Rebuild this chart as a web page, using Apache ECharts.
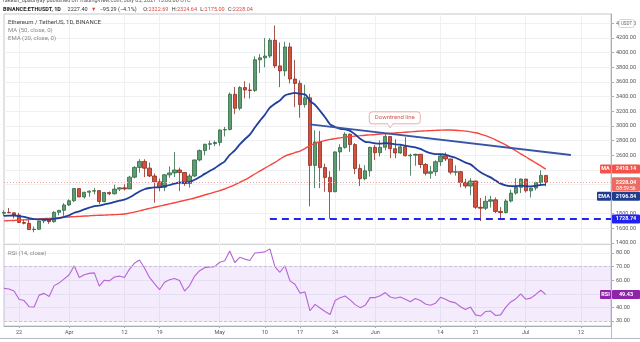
<!DOCTYPE html>
<html>
<head>
<meta charset="utf-8">
<title>ETHUSDT 1D</title>
<script src="https://cdn.jsdelivr.net/npm/echarts@6.0.0/dist/echarts.min.js"></script>
<style>
html,body{margin:0;padding:0;background:#ffffff;}
#chart{width:640px;height:342px;}
</style>
</head>
<body>
<div id="chart"></div>
<script>
// Daily ETH/USDT candles (Binance), 19 Mar – 5 Jul 2021: [open, high, low, close]
const ohlc = [
  [1806,1844,1765,1818],[1818,1878,1810,1812],[1812,1820,1735,1783],[1783,1811,1671,1680],
  [1680,1724,1654,1669],[1669,1734,1578,1583],[1583,1626,1546,1587],[1587,1703,1586,1700],
  [1700,1732,1669,1715],[1715,1719,1662,1691],[1691,1835,1676,1819],[1819,1846,1777,1846],
  [1846,1944,1771,1919],[1919,1995,1906,1977],[1977,2145,1959,2143],[2143,2148,2030,2028],
  [2028,2098,2007,2093],[2093,2119,2031,2108],[2108,2152,2064,2115],[2115,2123,1932,1966],
  [1966,2097,1956,2089],[2089,2103,2052,2072],[2072,2196,2062,2136],[2136,2160,2110,2153],
  [2153,2202,2117,2139],[2139,2318,2136,2299],[2299,2450,2284,2432],[2432,2545,2360,2514],
  [2514,2544,2300,2422],[2422,2498,2300,2315],[2315,2350,1950,2235],[2235,2280,2106,2161],
  [2161,2340,2108,2331],[2331,2447,2290,2357],[2357,2644,2300,2397],[2397,2430,2108,2363],
  [2363,2366,2180,2213],[2213,2345,2155,2315],[2315,2540,2300,2534],[2534,2677,2515,2662],
  [2662,2757,2597,2748],[2748,2798,2672,2757],[2757,2797,2722,2773],[2773,2950,2728,2944],
  [2944,2985,2855,2950],[2950,3456,2937,3431],[3431,3531,3160,3240],[3240,3542,3211,3523],
  [3523,3608,3375,3490],[3490,3580,3373,3484],[3484,3950,3462,3903],[3903,3979,3723,3929],
  [3929,4200,3800,3954],[3954,4197,3927,4169],[4169,4372,3789,3819],[3819,4139,3529,3751],
  [3751,4147,3678,4078],[4078,4135,3579,3640],[3640,3901,3255,3580],[3580,3622,3110,3290],
  [3290,3562,3250,3383],[3383,3437,1900,2460],[2460,2940,2149,2780],[2780,2930,2150,2430],
  [2430,2485,2100,2296],[2296,2380,1728.74,2100],[2100,2650,2094,2644],[2644,2750,2389,2705],
  [2705,2912,2687,2886],[2886,2894,2645,2744],[2744,2763,2340,2418],[2418,2475,2178,2278],
  [2278,2463,2255,2386],[2386,2714,2306,2706],[2706,2739,2532,2633],[2633,2801,2581,2707],
  [2707,2891,2665,2855],[2855,2857,2560,2688],[2688,2817,2558,2630],[2630,2743,2616,2713],
  [2713,2845,2584,2591],[2591,2620,2320,2599],[2599,2620,2455,2611],[2611,2614,2422,2472],
  [2472,2493,2322,2352],[2352,2450,2278,2373],[2373,2530,2317,2510],[2510,2610,2452,2589],
  [2589,2636,2520,2548],[2548,2552,2337,2367],[2367,2460,2320,2374],[2374,2385,2161,2228],
  [2228,2276,2146,2178],[2178,2285,2050,2247],[2247,2250,1866,1888],[1888,2014,1700,1875],
  [1875,2044,1850,1970],[1970,2044,1883,1990],[1990,2022,1809,1831],[1831,1890,1718,1816],
  [1816,1998,1803,1973],[1973,2130,1953,2081],[2081,2285,2061,2160],[2160,2280,2082,2273],
  [2273,2275,2090,2113],[2113,2155,2021,2150],[2150,2238,2118,2225],[2225,2393,2180,2323],
  [2322.69,2324.64,2175.00,2228.04]
];

// MA (50, close)
const ma50 = [
  1702,1705,1708,1712,1716,1720,1724,1728,1732,1736,
  1740,1745,1750,1755,1760,1764,1768,1771,1775,1778,
  1781,1784,1787,1790,1796,1808,1822,1838,1855,1872,
  1888,1903,1918,1934,1950,1966,1982,1998,2015,2035,
  2055,2075,2095,2115,2137,2165,2195,2228,2262,2300,
  2342,2382,2422,2462,2500,2545,2588,2612,2635,2656,
  2690,2730,2760,2783,2800,2815,2826,2836,2846,2853,
  2860,2866,2872,2877,2882,2888,2893,2898,2903,2908,
  2913,2918,2923,2928,2932,2935,2938,2941,2943,2943,
  2940,2935,2928,2918,2905,2888,2866,2840,2810,2775,
  2740,2700,2660,2618,2578,2535,2495,2452,2410.14
];

// EMA (20, close)
const ema20 = [
  1770,1774,1775,1766,1757,1740,1725,1723,1722,1719,
  1729,1740,1757,1778,1813,1833,1858,1882,1904,1910,
  1927,1941,1960,1978,1993,2022,2061,2104,2134,2151,
  2159,2159,2175,2192,2212,2226,2225,2234,2263,2301,
  2344,2383,2420,2470,2516,2603,2664,2746,2817,2880,
  2977,3068,3152,3249,3303,3346,3416,3437,3451,3436,
  3431,3339,3286,3205,3118,3021,2985,2958,2951,2931,
  2882,2824,2782,2775,2761,2756,2765,2758,2746,2743,
  2729,2717,2707,2685,2653,2626,2615,2613,2607,2584,
  2564,2532,2498,2474,2418,2366,2328,2296,2252,2210,
  2187,2177,2175,2184,2177,2174,2179,2193,2196.84
];

// RSI (14, close)
const rsi14 = [
  54,53.5,52,46,45,40.5,40.3,49,50.3,48,
  56,58,61,64,70.6,62,64,65,65.4,55.6,
  60,59.5,62.3,63,62,68,72.5,74.8,69,62,
  57.5,53,58.5,60.3,61.2,59.8,52,56,63,67,
  69.2,69.8,69.9,73.2,74.3,81.5,73,76.8,75.5,74.5,
  80,80.4,80.8,83,70,65.8,70.6,59.5,57,50.5,
  51.3,37.5,42.2,39.5,37,34.8,45,47,48.4,45.5,
  42,39.8,41.5,47.2,47.2,48.6,50.9,47.6,46.7,47.6,
  45.9,44.2,46.5,45,42.5,41.5,43,47.4,46,44.2,
  43.3,40.5,38.5,40.2,34.5,33.6,37,37.3,34,34.5,
  40,44,46.2,50,46,46.8,49.5,52.6,49.43
];

// Time-axis marks and their printed text
const tickDays = ['2021-03-22','2021-04-01','2021-04-12','2021-04-19','2021-05-01','2021-05-10',
  '2021-05-17','2021-05-24','2021-06-01','2021-06-14','2021-06-21','2021-07-01','2021-07-12'];
const tickText = ['22','Apr','12','19','May','10','17','24','Jun','14','21','Jul','12'];
const priceTicks = [1400,1600,1800,2000,2200,2400,2600,2800,3000,3200,3400,3600,3800,4000,4200,4400];
const rsiTicks = [30,40,50,60,70,80];

// Drawings
const supportLevel = 1728.74;
const supportFrom = '2021-05-11';
const trendStart = ['2021-05-19', 3020];
const trendEnd = ['2021-07-10', 2602];
const trendNote = '2021-06-04';
const changeText = { last: '2227.40', diff: '\u221295.29 (\u22124.1%)' };
const countdown = '08:59:56';

// Daily category axis running past the last candle
const firstDay = Date.UTC(2021, 2, 19);
const dayCount = 122;
const days = [];
for (let k = 0; k < dayCount; k++) {
  days.push(new Date(firstDay + k * 86400000).toISOString().slice(0, 10));
}

const candles = ohlc.map(r => [r[0], r[3], r[2], r[1]]);
const last = ohlc[ohlc.length - 1];
const isTick = (idx, val) => tickDays.indexOf(val !== undefined ? val : days[idx]) >= 0;

const FONT = 'Roboto, "Liberation Sans", sans-serif';
const gridLine = { color: '#eef0f3', width: 1 };
const axisGrey = '#a9adb5';

const chart = echarts.init(document.getElementById('chart'), null, { renderer: 'canvas' });

chart.setOption({
  animation: false,
  backgroundColor: '#ffffff',
  textStyle: { fontFamily: FONT },
  grid: [
    { left: 4, top: 14, width: 607, height: 230, show: true, borderColor: '#c3c6cc', borderWidth: 1 },
    { left: 4, top: 244, width: 607, height: 82, show: true, borderColor: '#c3c6cc', borderWidth: 1 }
  ],
  xAxis: [
    {
      type: 'category', gridIndex: 0, data: days, boundaryGap: false,
      axisLine: { show: false }, axisTick: { show: false }, axisLabel: { show: false },
      splitLine: { show: true, interval: isTick, lineStyle: gridLine }
    },
    {
      type: 'category', gridIndex: 1, data: days, boundaryGap: false,
      axisLine: { show: true, lineStyle: { color: axisGrey } },
      axisTick: { show: true, interval: isTick, length: 2, lineStyle: { color: axisGrey } },
      axisLabel: {
        interval: isTick, fontSize: 5.5, color: '#555', margin: 4, fontFamily: FONT,
        formatter: v => tickText[tickDays.indexOf(v)]
      },
      splitLine: { show: true, interval: isTick, lineStyle: gridLine }
    }
  ],
  yAxis: [
    {
      type: 'value', gridIndex: 0, position: 'right', min: 1386, max: 4528,
      axisLine: { show: true, lineStyle: { color: axisGrey } },
      axisTick: { show: true, length: 3, customValues: priceTicks, lineStyle: { color: axisGrey } },
      axisLabel: { customValues: priceTicks, formatter: v => v.toFixed(2), fontSize: 5.5, color: '#555', margin: 5, fontFamily: FONT },
      splitLine: { show: true, lineStyle: gridLine }
    },
    {
      type: 'value', gridIndex: 1, position: 'right', min: 26.3, max: 86.6,
      axisLine: { show: true, lineStyle: { color: axisGrey } },
      axisTick: { show: true, length: 3, customValues: rsiTicks, lineStyle: { color: axisGrey } },
      axisLabel: { customValues: rsiTicks, formatter: v => v.toFixed(2), fontSize: 5.5, color: '#555', margin: 5, fontFamily: FONT },
      splitLine: { show: true, lineStyle: gridLine }
    }
  ],
  series: [
    {
      type: 'candlestick', xAxisIndex: 0, yAxisIndex: 0, data: candles, barWidth: 3.8,
      itemStyle: { color: '#5e9c72', color0: '#d4513e', borderColor: '#2e6a44', borderColor0: '#8e2b1f', borderWidth: 0.8 },
      markLine: {
        silent: true, symbol: ['none', 'none'], label: { show: false }, animation: false,
        data: [
          { yAxis: last[3], lineStyle: { color: '#f3a59d', type: [1, 2], width: 1 } },
          [ { coord: [supportFrom, supportLevel], lineStyle: { color: '#2525f2', type: [7, 5], width: 2 } }, { coord: [days[days.length - 1], supportLevel] } ],
          [ { coord: trendStart, lineStyle: { color: '#3856a6', width: 1.8, type: 'solid' } }, { coord: trendEnd } ]
        ]
      },
      z: 3
    },
    {
      type: 'line', name: 'MA', xAxisIndex: 0, yAxisIndex: 0, data: ma50, showSymbol: false, smooth: 0.3,
      lineStyle: { color: '#f5463d', width: 1.4 }, z: 4
    },
    {
      type: 'line', name: 'EMA', xAxisIndex: 0, yAxisIndex: 0, data: ema20, showSymbol: false, smooth: 0.3,
      lineStyle: { color: '#1f3f9b', width: 1.8 }, z: 4
    },
    {
      type: 'line', name: 'RSI', xAxisIndex: 1, yAxisIndex: 1, data: rsi14, showSymbol: false,
      lineStyle: { color: '#b664d6', width: 1.1 }, z: 4,
      markArea: { silent: true, itemStyle: { color: 'rgba(190,135,240,0.17)' }, data: [[{ yAxis: 30 }, { yAxis: 70 }]] },
      markLine: {
        silent: true, symbol: ['none', 'none'], label: { show: false },
        lineStyle: { color: '#cdbfe0', type: [3, 2], width: 1 },
        data: [{ yAxis: 30 }, { yAxis: 70 }]
      }
    }
  ]
});

// Overlay texts, price tags and the callout
const P = (idx, v) => chart.convertToPixel({ xAxisIndex: 0, yAxisIndex: 0 }, [idx, v]);
const yP = v => chart.convertToPixel({ yAxisIndex: 0 }, v);
const yR = v => chart.convertToPixel({ yAxisIndex: 1 }, v);

function tag(y, text, bg, opts) {
  const o = Object.assign({ x: 612, w: 28, h: 9, color: '#fff' }, opts || {});
  return [
    { type: 'rect', shape: { x: o.x, y: y - o.h / 2, width: o.w, height: o.h, r: 1 }, style: { fill: bg }, z: 100 },
    { type: 'text', x: o.x + o.w / 2, y: y, style: { text: text, fill: o.color, font: 'bold 5.5px ' + FONT, align: 'center', verticalAlign: 'middle' }, z: 101 }
  ];
}

const yMA = yP(ma50[ma50.length - 1]);
const yClose = yP(last[3]);
const closeBottom = yClose + 9;
const yEMA = Math.max(yP(ema20[ema20.length - 1]), closeBottom + 5);
const ySup = yP(supportLevel);
const yRSI = yR(rsi14[rsi14.length - 1]);

const els = [];
// header
els.push({ type: 'text', left: 3, top: -2.5, style: { text: 'rakesh_upadhyay published on TradingView.com, July 05, 2021 13:00:00 UTC', font: '5.5px ' + FONT, fill: '#555' } });
els.push({ type: 'text', left: 3, top: 4, style: {
  text: '{b|BINANCE:ETHUSDT, 1D}  {n|' + changeText.last + '} {r|\u25BC} {n|' + changeText.diff + '}  {n|O:}{r|' + last[0].toFixed(2) + '} {n|H:}{r|' + last[1].toFixed(2) + '} {n|L:}{r|' + last[2].toFixed(2) + '} {n|C:}{r|' + last[3].toFixed(2) + '}',
  rich: {
    b: { font: 'bold 5.5px ' + FONT, fill: '#222' },
    n: { font: '5.5px ' + FONT, fill: '#333' },
    r: { font: '5.5px ' + FONT, fill: '#e0463c' }
  }
} });
// legend inside panes
els.push({ type: 'text', left: 8, top: 19, style: { text: 'Ethereum / TetherUS, 1D, BINANCE', font: '6px ' + FONT, fill: '#444' } });
els.push({ type: 'text', left: 8, top: 27, style: { text: 'MA (50, close, 0)', font: '6px ' + FONT, fill: '#888' } });
els.push({ type: 'text', left: 8, top: 35, style: { text: 'EMA (20, close, 0)', font: '6px ' + FONT, fill: '#888' } });
els.push({ type: 'text', left: 8, top: 250, style: { text: 'RSI (14, close)', font: '6px ' + FONT, fill: '#888' } });
// bottom rule and axis separator
els.push({ type: 'line', shape: { x1: 0, y1: 338.5, x2: 640, y2: 338.5 }, style: { stroke: '#b8bbc2', lineWidth: 1 } });
els.push({ type: 'line', shape: { x1: 611.5, y1: 326, x2: 611.5, y2: 338 }, style: { stroke: '#b8bbc2', lineWidth: 1 } });
// currency box over the top scale label
els.push({ type: 'rect', shape: { x: 619, y: 19.5, width: 15, height: 8, r: 1.5 }, style: { fill: '#fff', stroke: '#bbb', lineWidth: 0.6 }, z: 100 });
els.push({ type: 'text', x: 626.5, y: 23.5, style: { text: 'USDT', font: '4.5px ' + FONT, fill: '#666', align: 'center', verticalAlign: 'middle' }, z: 101 });
// price tags
els.push(...tag(yMA, ma50[ma50.length - 1].toFixed(2), '#f2534a'));
els.push(...tag(yMA, 'MA', '#f2534a', { x: 600, w: 11 }));
els.push({ type: 'rect', shape: { x: 612, y: yClose - 5, width: 28, height: 14, r: 1 }, style: { fill: '#ec6c61' }, z: 100 });
els.push({ type: 'text', x: 626, y: yClose, style: { text: last[3].toFixed(2), fill: '#fff', font: 'bold 5.5px ' + FONT, align: 'center', verticalAlign: 'middle' }, z: 101 });
els.push({ type: 'text', x: 626, y: yClose + 6, style: { text: countdown, fill: '#fff', font: '5px ' + FONT, align: 'center', verticalAlign: 'middle' }, z: 101 });
els.push(...tag(yEMA, ema20[ema20.length - 1].toFixed(2), '#1f3c8f'));
els.push(...tag(yEMA, 'EMA', '#1f3c8f', { x: 597, w: 14 }));
els.push(...tag(ySup, supportLevel.toFixed(2), '#2222f0'));
els.push(...tag(yRSI, rsi14[rsi14.length - 1].toFixed(2), '#8e24aa'));
els.push(...tag(yRSI, 'RSI', '#8e24aa', { x: 600, w: 11 }));
// callout on the trend line
const i0 = days.indexOf(trendStart[0]), i1 = days.indexOf(trendEnd[0]), iN = days.indexOf(trendNote);
const vN = trendStart[1] + (trendEnd[1] - trendStart[1]) * (iN - i0) / (i1 - i0);
const tip = P(iN, vN);
const bx = tip[0] - 21, by = tip[1] - 22, bw = 51, bh = 12;
els.push({ type: 'rect', shape: { x: bx, y: by, width: bw, height: bh, r: 3 }, style: { fill: '#fff', stroke: '#e39a94', lineWidth: 0.8 }, z: 110 });
els.push({ type: 'polygon', shape: { points: [[tip[0] - 3, by + bh - 0.4], [tip[0] + 3, by + bh - 0.4], [tip[0], by + bh + 4]] }, style: { fill: '#fff', stroke: '#e39a94', lineWidth: 0.8 }, z: 110 });
els.push({ type: 'rect', shape: { x: tip[0] - 2.6, y: by + bh - 1.2, width: 5.2, height: 1.6 }, style: { fill: '#fff' }, z: 111 });
els.push({ type: 'text', x: bx + bw / 2, y: by + bh / 2, style: { text: 'Downtrend line', font: '6px ' + FONT, fill: '#cf5a52', align: 'center', verticalAlign: 'middle' }, z: 112 });

chart.setOption({ graphic: { elements: els } });
</script>
</body>
</html>
